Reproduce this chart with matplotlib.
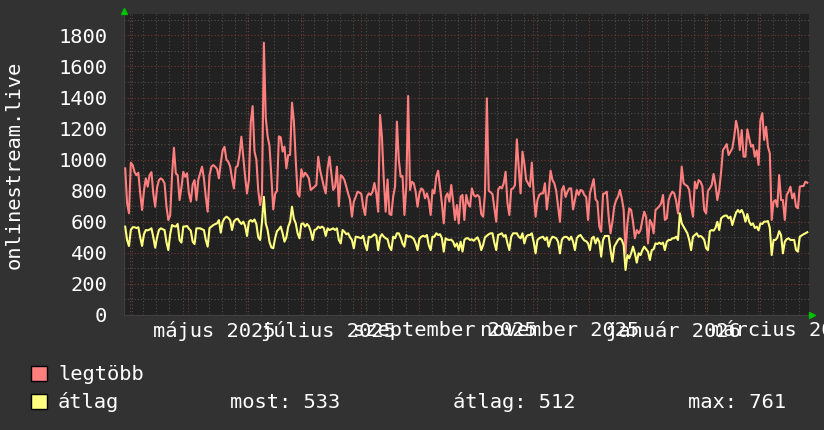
import numpy as np
import matplotlib
matplotlib.use("Agg")
import matplotlib.pyplot as plt
import matplotlib.dates as mdates
import matplotlib.transforms as mtransforms
from matplotlib.patches import Rectangle

# daily values, first point 2025-03-28
start = np.datetime64("2025-03-28T09:00")

legtobb = [
    944, 720, 655, 980, 965, 920, 900, 916, 783, 676,
    800, 880, 826, 900, 920, 780, 697, 820, 869, 880,
    870, 847, 700, 611, 640, 900, 1077, 912, 900, 740,
    820, 922, 890, 912, 783, 730, 840, 869, 740, 870,
    912, 955, 880, 760, 665, 900, 955, 965, 955, 940,
    880, 980, 1060, 1083, 1000, 987, 955, 880, 815, 950,
    960, 1030, 1148, 1019, 890, 783, 869, 1240, 1345, 1052,
    1000, 800, 708, 783, 1753, 1270, 1150, 1088, 890, 680,
    780, 800, 1150, 1144, 1052, 1084, 944, 1030, 1030, 1367,
    1250, 998, 783, 762, 938, 890, 916, 901, 880, 805,
    815, 826, 837, 1019, 933, 880, 826, 783, 944, 1019,
    912, 805, 826, 955, 700, 901, 890, 869, 826, 780,
    740, 633, 730, 760, 794, 788, 780, 697, 644, 762,
    783, 773, 794, 850, 783, 665, 1288, 1148, 869, 665,
    873, 650, 644, 762, 826, 1245, 1000, 890, 895, 644,
    826, 1410, 805, 858, 848, 794, 697, 783, 815, 805,
    751, 783, 740, 644, 805, 783, 890, 929, 826, 719,
    590, 762, 783, 730, 837, 730, 612, 708, 590, 762,
    773, 612, 773, 719, 697, 815, 773, 762, 773, 760,
    650, 633, 783, 1395, 800, 790, 778, 690, 601, 805,
    826, 815, 848, 922, 720, 644, 810, 815, 837, 1131,
    950, 783, 1052, 976, 869, 848, 826, 981, 783, 633,
    740, 773, 783, 783, 848, 680, 783, 929, 869, 848,
    800, 697, 600, 805, 830, 760, 794, 815, 815, 680,
    740, 805, 773, 805, 800, 773, 760, 612, 783, 830,
    875, 745, 730, 570, 536, 780, 783, 794, 633, 526,
    600, 700, 740, 762, 805, 751, 680, 397, 590, 687,
    676, 600, 494, 547, 526, 547, 612, 665, 630, 461,
    612, 590, 526, 676, 687, 700, 719, 773, 612, 622,
    740, 773, 794, 783, 735, 654, 783, 955, 848, 837,
    830, 805, 700, 633, 858, 815, 869, 858, 830, 676,
    654, 800, 815, 837, 908, 840, 740, 805, 920, 1062,
    1080, 1100, 1030, 1052, 1073, 1148, 1250, 1191, 1062, 1191,
    1020, 1019, 1195, 1137, 1084, 1095, 1019, 1060, 966, 1255,
    1300, 1127, 1212, 1084, 1041, 612, 730, 740, 697, 901,
    740, 740, 612, 773, 794, 826, 751, 783, 697, 687,
    826, 830, 830, 858, 852,
]

atlag = [
    569, 483, 444, 547, 565, 565, 560, 565, 500, 445,
    520, 547, 545, 550, 558, 500, 433, 500, 547, 558,
    552, 547, 470, 418, 520, 579, 572, 569, 586, 483,
    466, 569, 570, 573, 555, 543, 472, 457, 558, 558,
    558, 552, 547, 483, 440, 560, 569, 579, 585, 590,
    611, 530, 600, 622, 633, 625, 611, 547, 601, 615,
    620, 601, 586, 601, 573, 509, 601, 611, 601, 615,
    585, 500, 483, 600, 761, 590, 547, 470, 435, 430,
    494, 540, 552, 569, 526, 472, 500, 569, 600, 697,
    620, 590, 526, 494, 586, 590, 569, 586, 573, 540,
    483, 547, 552, 569, 560, 569, 560, 509, 558, 547,
    552, 558, 547, 558, 483, 461, 547, 536, 520, 526,
    500, 483, 429, 504, 502, 498, 494, 510, 455, 418,
    504, 500, 509, 520, 510, 418, 500, 520, 504, 494,
    488, 440, 418, 504, 494, 526, 526, 500, 460, 440,
    515, 504, 507, 500, 490, 460, 418, 490, 504, 510,
    504, 515, 450, 418, 504, 504, 526, 515, 520, 495,
    408, 494, 485, 483, 485, 472, 440, 461, 418, 472,
    408, 483, 494, 494, 483, 487, 478, 490, 500, 472,
    418, 451, 500, 510, 520, 526, 526, 465, 418, 515,
    520, 526, 504, 515, 461, 418, 504, 526, 526, 526,
    504, 494, 526, 461, 504, 515, 515, 526, 470, 397,
    483, 494, 500, 504, 483, 500, 440, 483, 504, 500,
    494, 472, 397, 483, 500, 504, 500, 483, 504, 472,
    418, 494, 509, 515, 496, 480, 475, 461, 418, 494,
    504, 461, 494, 472, 376, 483, 509, 509, 509, 418,
    343, 440, 461, 483, 494, 483, 451, 290, 386, 365,
    397, 440, 397, 337, 397, 386, 418, 440, 423, 408,
    354, 418, 423, 461, 457, 466, 457, 466, 418, 472,
    483, 483, 494, 494, 504, 483, 655, 590, 569, 547,
    526, 483, 418, 504, 515, 526, 504, 509, 500, 483,
    430, 418, 540, 547, 543, 560, 600, 547, 622, 633,
    640, 640, 622, 633, 579, 622, 659, 676, 660, 676,
    650, 601, 650, 601, 579, 590, 560, 569, 545, 590,
    586, 601, 601, 605, 560, 386, 483, 483, 498, 540,
    515, 397, 472, 488, 494, 483, 483, 483, 418, 408,
    504, 512, 520, 526, 533,
]

month_labels = ["május 2025", "július 2025", "szeptember 2025",
                "november 2025", "január 2026", "március 2026"]
month_label_dates = ["2025-05-15", "2025-07-15", "2025-09-15",
                     "2025-11-15", "2026-01-15", "2026-03-15"]

legend_stats = ["most: 533", "átlag: 512", "max: 761"]

dates = start + np.arange(len(legtobb)) * np.timedelta64(1, "D")
dates = dates.astype("datetime64[m]").astype(object)

plt.rcParams["font.family"] = ["DejaVu Sans Mono"]
FS = 14.7
BG = "#323232"
CANVAS = "#212121"

fig = plt.figure(figsize=(8.24, 4.30), dpi=100, facecolor=BG)
ax = fig.add_axes([124 / 824, 1 - 315 / 430, 685 / 824, 301 / 430])
ax.set_facecolor(CANVAS)

ax.plot(dates, legtobb, color="#ff7f7f", lw=1.5, zorder=3)
ax.plot(dates, atlag, color="#ffff7f", lw=1.5, zorder=4)

ax.set_xlim(np.datetime64("2025-03-27T17:30").astype(object),
            np.datetime64("2026-03-28T07:00").astype(object))
ax.set_ylim(0, 1938)

# grid: months + weeks, 200 + 100
ax.xaxis.set_major_locator(mdates.MonthLocator())
ax.xaxis.set_minor_locator(mdates.WeekdayLocator(byweekday=mdates.MO))
ax.set_yticks(np.arange(0, 1801, 200))
ax.set_yticks(np.arange(100, 1901, 200), minor=True)
ax.grid(which="minor", color="#4e4e4e", lw=0.8, ls=(0, (1, 2)))
ax.grid(which="major", color="#7a3434", lw=0.8, ls=(0, (1, 2)))
ax.set_axisbelow(True)

ax.set_xticklabels([])
ax.tick_params(axis="x", which="both", length=0)
ax.tick_params(axis="y", which="both", length=0, pad=12,
               labelsize=FS, labelcolor="white")

for s in ["top", "right"]:
    ax.spines[s].set_visible(False)
ax.spines["left"].set_color("#404040")
ax.spines["bottom"].set_color("#404040")

# month labels under the axis
trans = mtransforms.blended_transform_factory(ax.transData, fig.transFigure)
for lab, d in zip(month_labels, month_label_dates):
    ax.text(np.datetime64(d).astype(object), 1 - 331 / 430, lab,
            transform=trans, ha="center", va="center",
            fontsize=FS, color="white", clip_on=False)

# little green arrows on the axes
fig.lines.append(plt.Line2D([124 / 824], [1 - 11 / 430], marker="^",
                            color="#00c000", ms=5, transform=fig.transFigure))
fig.lines.append(plt.Line2D([812 / 824], [1 - 315 / 430], marker=">",
                            color="#00c000", ms=5, transform=fig.transFigure))

fig.text(14 / 824, 1 - 165 / 430, "onlinestream.live", rotation=90,
         ha="center", va="center", fontsize=FS, color="white")

# legend
fig.patches.append(Rectangle((31 / 824, 1 - 381 / 430), 16 / 824, 15 / 430,
                             facecolor="#ff7f7f", edgecolor="black", lw=1,
                             transform=fig.transFigure))
fig.patches.append(Rectangle((31 / 824, 1 - 409 / 430), 16 / 824, 15 / 430,
                             facecolor="#ffff7f", edgecolor="black", lw=1,
                             transform=fig.transFigure))
fig.text(58 / 824, 1 - 374 / 430, "legtöbb", ha="left", va="center",
         fontsize=FS, color="white")
fig.text(58 / 824, 1 - 402 / 430, "átlag", ha="left", va="center",
         fontsize=FS, color="white")
for txt, x in zip(legend_stats, [230, 453, 688]):
    fig.text(x / 824, 1 - 402 / 430, txt, ha="left", va="center",
             fontsize=FS, color="white")

fig.savefig("out.png", dpi=100, facecolor=BG)
